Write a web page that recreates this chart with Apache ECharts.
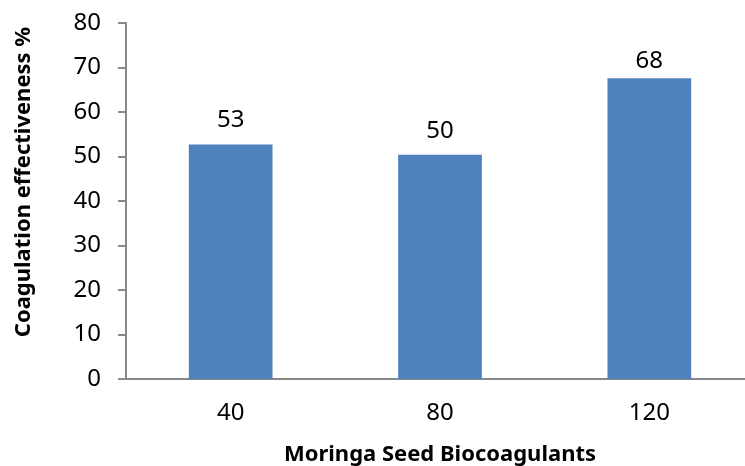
<!DOCTYPE html>
<html>
<head>
<meta charset="utf-8">
<script src="https://cdn.jsdelivr.net/npm/echarts@6/dist/echarts.min.js"></script>
<style>
    html, body { margin: 0; padding: 0; background: #fff; }
    #chart { width: 745px; height: 466px; }
</style>
</head>
<body>
<div id="chart"></div>
<script>
// doses of moringa seed biocoagulant
const categories = ['40', '80', '120'];
// coagulation effectiveness %
const effectiveness = [52.7, 50.4, 67.6];
const yTicks = { min: 0, max: 80, interval: 10 };

const font = '"Noto Sans", "DejaVu Sans", sans-serif';
const axisGrey = '#898989';

let chart = echarts.init(document.getElementById('chart'));

let option = {
    animation: false,
    grid: {
        left: 126,
        top: 23,
        width: 628,
        height: 356,
        outerBoundsMode: 'none',
    },
    xAxis: {
        type: 'category',
        data: categories,
        axisLine: { lineStyle: { color: axisGrey, width: 2 } },
        axisTick: { show: false },
        axisLabel: {
            margin: 22,
            color: '#000',
            fontFamily: font,
            fontSize: 24,
        },
        name: 'Moringa Seed Biocoagulants',
        nameLocation: 'middle',
        nameGap: 65,
        nameTextStyle: {
            color: '#000',
            fontFamily: font,
            fontSize: 22,
            fontWeight: 'bold',
        },
    },
    yAxis: {
        type: 'value',
        min: yTicks.min,
        max: yTicks.max,
        interval: yTicks.interval,
        splitLine: { show: false },
        axisLine: { show: true, lineStyle: { color: axisGrey, width: 2 } },
        axisTick: { show: true, length: 8, lineStyle: { color: axisGrey, width: 2 } },
        axisLabel: {
            margin: 25,
            color: '#000',
            fontFamily: font,
            fontSize: 24,
        },
    },
    graphic: [
        {
            type: 'text',
            x: 24,
            y: 182,
            rotation: Math.PI / 2,
            style: {
                text: 'Coagulation effectiveness %',
                align: 'center',
                verticalAlign: 'middle',
                fill: '#000',
                font: 'bold 22px ' + font,
            },
        },
    ],
    series: [
        {
            type: 'bar',
            barWidth: '40%',
            itemStyle: { color: '#4F81BD' },
            data: effectiveness.map((v, i) => ({
                value: v,
                // the last label sits a bit closer to its bar in the original
                label: { distance: i === 2 ? 5 : 12 },
            })),
            label: {
                show: true,
                position: 'top',
                color: '#000',
                fontFamily: font,
                fontSize: 24,
                formatter: p => Math.round(p.value),
            },
        },
    ],
};

chart.setOption(option);
</script>
</body>
</html>
